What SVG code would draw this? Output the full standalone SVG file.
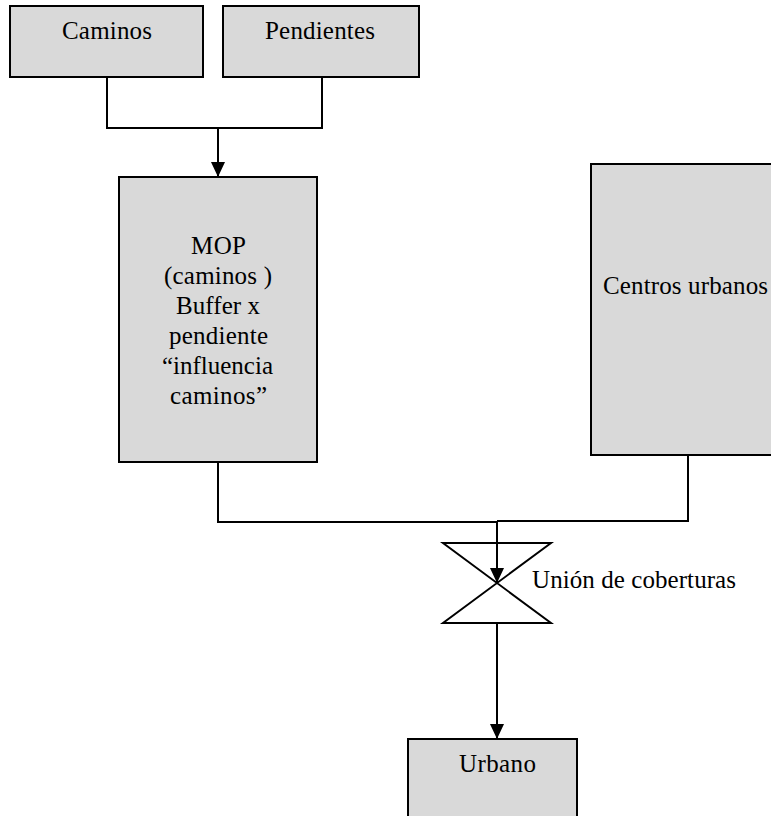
<svg xmlns="http://www.w3.org/2000/svg" width="771" height="816" viewBox="0 0 771 816">
  <style>
    .box { fill: #d9d9d9; stroke: #000; stroke-width: 2; }
    .wire { fill: none; stroke: #000; stroke-width: 2; }
    .lbl { font-family: 'Liberation Serif', 'Times New Roman', serif; font-size: 25px; fill: #000; }
  </style>
  <defs>
    <marker id="arrow" markerUnits="userSpaceOnUse" markerWidth="16" markerHeight="16" refX="15" refY="7" orient="auto">
      <path d="M0,0 L15,7 L0,14 Z" fill="#000"/>
    </marker>
  </defs>

  <rect width="771" height="816" fill="#fff"/>

  <!-- connectors -->
  <g id="connectors">
    <path class="wire" d="M107,77 V128 H322 V77"/>
    <path class="wire" d="M218,128 V177" marker-end="url(#arrow)"/>
    <path class="wire" d="M218,462 V522 H497"/>
    <path class="wire" d="M688,455 V521 H497"/>
    <path class="wire" d="M497,521 V583" marker-end="url(#arrow)"/>
    <path class="wire" d="M497,623 V739" marker-end="url(#arrow)"/>
  </g>

  <g id="caminos">
    <rect class="box" x="10" y="6" width="193" height="71"/>
    <text class="lbl" x="62" y="39" textLength="90" lengthAdjust="spacing">Caminos</text>
  </g>

  <g id="pendientes">
    <rect class="box" x="223" y="6" width="196" height="71"/>
    <text class="lbl" x="265" y="39" textLength="110" lengthAdjust="spacing">Pendientes</text>
  </g>

  <g id="mop">
    <rect class="box" x="119" y="177" width="198" height="285"/>
    <text class="lbl" x="191" y="254" textLength="55" lengthAdjust="spacing">MOP</text>
    <text class="lbl" x="164" y="284" textLength="108" lengthAdjust="spacing">(caminos )</text>
    <text class="lbl" x="176" y="314" textLength="84" lengthAdjust="spacing">Buffer x</text>
    <text class="lbl" x="169" y="344" textLength="99" lengthAdjust="spacing">pendiente</text>
    <text class="lbl" x="162" y="374" textLength="111" lengthAdjust="spacing">“influencia</text>
    <text class="lbl" x="170" y="404" textLength="97" lengthAdjust="spacing">caminos”</text>
  </g>

  <g id="centros">
    <rect class="box" x="591" y="164" width="200" height="291"/>
    <text class="lbl" x="603" y="294" textLength="165" lengthAdjust="spacing">Centros urbanos</text>
  </g>

  <g id="union">
    <path class="wire" d="M443,543 H551 L443,623 H551 Z" fill="#fff" stroke-width="1.6"/>
    <text class="lbl" x="532" y="588" textLength="204" lengthAdjust="spacing">Unión de coberturas</text>
  </g>

  <g id="urbano">
    <rect class="box" x="408" y="739" width="169" height="100"/>
    <text class="lbl" x="459" y="772" textLength="77" lengthAdjust="spacing">Urbano</text>
  </g>
</svg>
